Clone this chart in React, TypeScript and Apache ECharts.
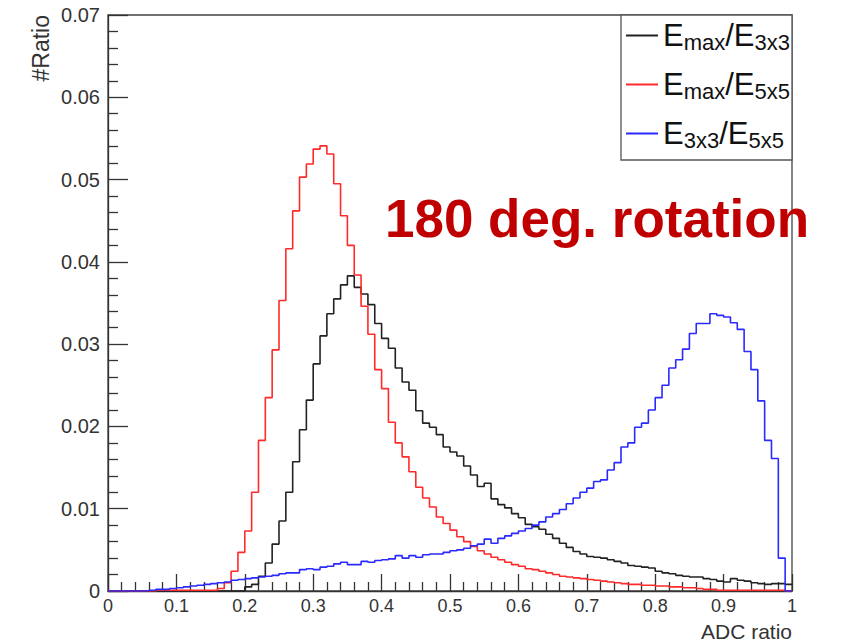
import React, { useEffect, useRef } from "react";
import * as echarts from "echarts";

const binCount = 100;
const binWidth = 0.01;
const xTickLabels = ["0", "0.1", "0.2", "0.3", "0.4", "0.5", "0.6", "0.7", "0.8", "0.9", "1"];
const yTickLabels = ["0", "0.01", "0.02", "0.03", "0.04", "0.05", "0.06", "0.07"];
const seriesNames = ["Emax/E3x3", "Emax/E5x5", "E3x3/E5x5"];

const emaxE3x3 = [
  0, 0, 0, 0, 0, 0, 0, 0, 0, 0,
  0, 0, 0, 0, 0, 0, 0, 0, 0, 0,
  0.0005, 0.0008, 0.0018, 0.0034, 0.0057, 0.0085, 0.012, 0.0157, 0.0196, 0.0232,
  0.0276, 0.031, 0.0337, 0.0355, 0.0372, 0.0383, 0.0369, 0.0361, 0.0348, 0.0325,
  0.0307, 0.0295, 0.0271, 0.0254, 0.0244, 0.0219, 0.0204, 0.0199, 0.019, 0.0175,
  0.0169, 0.0164, 0.0152, 0.0141, 0.0127, 0.0131, 0.0112, 0.0105, 0.0101, 0.0094,
  0.0089, 0.0081, 0.0078, 0.0075, 0.0069, 0.0064, 0.0058, 0.0053, 0.0048, 0.0045,
  0.0042, 0.0041, 0.004, 0.0038, 0.0036, 0.0034, 0.0031, 0.003, 0.0029, 0.0028,
  0.0024, 0.0022, 0.0021, 0.0019, 0.0018, 0.0017, 0.0017, 0.0015, 0.0014, 0.0012,
  0.0011, 0.0015, 0.0013, 0.0012, 0.001, 0.0009, 0.0008, 0.0009, 0.0009, 0.0008,
];

const emaxE5x5 = [
  0, 0, 0, 0, 0, 0, 0, 0.0001, 0.0001, 0.0001,
  0.0001, 0.0001, 0.0001, 0.0001, 0.0001, 0.0001, 0.0003, 0.001, 0.0024, 0.0047,
  0.0073, 0.012, 0.0183, 0.0235, 0.0293, 0.0353, 0.0416, 0.0462, 0.0503, 0.0519,
  0.0537, 0.0541, 0.0531, 0.0495, 0.0456, 0.042, 0.0384, 0.0346, 0.0312, 0.0269,
  0.0246, 0.0205, 0.018, 0.0163, 0.0145, 0.0126, 0.0113, 0.0102, 0.009, 0.0082,
  0.0074, 0.0066, 0.006, 0.0054, 0.0049, 0.0045, 0.0041, 0.0038, 0.0035, 0.0032,
  0.003, 0.0027, 0.0026, 0.0024, 0.0022, 0.002, 0.0018, 0.0017, 0.0016, 0.0015,
  0.0014, 0.0013, 0.0012, 0.0011, 0.001, 0.0009, 0.0008, 0.0008, 0.0007, 0.0007,
  0.0006, 0.0006, 0.0005, 0.0005, 0.0004, 0.0004, 0.0003, 0.0002, 0.0002, 0.0001,
  0.0001, 0.0001, 0.0001, 0.0001, 0.0001, 0.0001, 0.0001, 0.0001, 0.0001, 0,
];

const e3x3E5x5 = [
  0, 0, 0, 0, 0, 0, 0.0001, 0.0002, 0.0002, 0.0003,
  0.0004, 0.0005, 0.0006, 0.0007, 0.0008, 0.0009, 0.001, 0.0011, 0.0013, 0.0014,
  0.0015, 0.0016, 0.0017, 0.0018, 0.0019, 0.0021, 0.0022, 0.0022, 0.0026, 0.0027,
  0.0026, 0.0029, 0.003, 0.0033, 0.0035, 0.0032, 0.0032, 0.0036, 0.0035, 0.0037,
  0.0038, 0.0039, 0.0043, 0.004, 0.0043, 0.0041, 0.0044, 0.0045, 0.0045, 0.0047,
  0.0049, 0.005, 0.0052, 0.0055, 0.0057, 0.0063, 0.0058, 0.0064, 0.0067, 0.007,
  0.0073, 0.0076, 0.008, 0.0084, 0.009, 0.0094, 0.0099, 0.0106, 0.0113, 0.012,
  0.0125, 0.0133, 0.0135, 0.0147, 0.0156, 0.0175, 0.018, 0.0199, 0.0204, 0.022,
  0.0235, 0.025, 0.0271, 0.0281, 0.0294, 0.0313, 0.0325, 0.0325, 0.0337, 0.0335,
  0.0333, 0.0326, 0.0318, 0.0291, 0.0269, 0.0231, 0.0183, 0.0161, 0.004, 0,
];

const seriesColors = ["#222222", "#ff2a2a", "#2a2aff"];

const legendRich: Record<string, string> = {
  "Emax/E3x3": "{E|E}{s|max}{E|/E}{s|3x3}",
  "Emax/E5x5": "{E|E}{s|max}{E|/E}{s|5x5}",
  "E3x3/E5x5": "{E|E}{s|3x3}{E|/E}{s|5x5}",
};

const FONT = "'Liberation Sans', Arial, Helvetica, sans-serif";

function toSteps(values: number[]) {
  const pts: [number, number][] = values.map((v, i) => [+(i * binWidth).toFixed(2), v]);
  pts.push([+(binCount * binWidth).toFixed(2), values[values.length - 1]]);
  return pts;
}

export default function App() {
  const ref = useRef<HTMLDivElement>(null);
  useEffect(() => {
    if (!ref.current) return;
    const chart = echarts.init(ref.current, undefined, { renderer: "svg" });
    const allValues = [emaxE3x3, emaxE5x5, e3x3E5x5];
    chart.setOption({
      animation: false,
      backgroundColor: "#ffffff",
      grid: {
        left: 108,
        top: 15,
        right: 51,
        bottom: 53,
        show: true,
        borderColor: "#444",
        borderWidth: 1.3,
        backgroundColor: "transparent",
      },
      xAxis: {
        type: "value",
        min: 0,
        max: 1,
        interval: 0.1,
        axisLine: { show: true, lineStyle: { color: "#333", width: 1.3 } },
        axisTick: { show: true, inside: true, length: 17, lineStyle: { color: "#333", width: 1.3 } },
        minorTick: { show: true, splitNumber: 5, length: 9, lineStyle: { color: "#333", width: 1.3 } },
        splitLine: { show: false },
        axisLabel: {
          show: true,
          margin: 6,
          fontSize: 18,
          color: "#333",
          fontFamily: FONT,
          showMinLabel: true,
          showMaxLabel: true,
          formatter: (v: number) => xTickLabels[Math.round(v * 10)] ?? "",
        },
      },
      yAxis: {
        type: "value",
        min: 0,
        max: 0.07,
        interval: 0.01,
        axisLine: { show: true, lineStyle: { color: "#333", width: 1.3 } },
        axisTick: { show: true, inside: true, length: 20, lineStyle: { color: "#333", width: 1.3 } },
        minorTick: { show: true, splitNumber: 5, length: 10, lineStyle: { color: "#333", width: 1.3 } },
        splitLine: { show: false },
        axisLabel: {
          show: true,
          margin: 8,
          fontSize: 20,
          color: "#333",
          fontFamily: FONT,
          showMinLabel: true,
          showMaxLabel: true,
          formatter: (v: number) => yTickLabels[Math.round(v * 100)] ?? "",
        },
      },
      legend: {
        orient: "vertical",
        left: 626,
        top: 20,
        padding: 0,
        itemWidth: 32,
        itemHeight: 2,
        itemGap: 15.5,
        icon: "rect",
        data: seriesNames,
        formatter: (name: string) => legendRich[name] ?? name,
        textStyle: {
          color: "#111",
          fontFamily: FONT,
          rich: {
            E: { fontSize: 31, lineHeight: 36, color: "#111", fontFamily: FONT },
            s: { fontSize: 22, padding: [14, 0, 0, 0], color: "#111", fontFamily: FONT },
          },
        },
        z: 6,
      },
      graphic: [
        {
          type: "rect",
          z: 5,
          shape: { x: 621, y: 15, width: 171, height: 145 },
          style: { fill: "#fff", stroke: "#555", lineWidth: 1.3 },
        },
        {
          type: "text",
          z: 5,
          x: 41,
          y: 15,
          rotation: Math.PI / 2,
          style: {
            text: "#Ratio",
            align: "right",
            verticalAlign: "middle",
            fontSize: 23,
            fontFamily: FONT,
            fill: "#333",
          },
        },
        {
          type: "text",
          z: 5,
          x: 792,
          y: 631,
          style: {
            text: "ADC ratio",
            align: "right",
            verticalAlign: "middle",
            fontSize: 21,
            fontFamily: FONT,
            fill: "#333",
          },
        },
        {
          type: "text",
          z: 5,
          x: 597,
          y: 218,
          style: {
            text: "180 deg. rotation",
            align: "center",
            verticalAlign: "middle",
            fontSize: 53,
            fontWeight: "bold",
            fontFamily: FONT,
            fill: "#c00000",
          },
        },
      ],
      series: seriesNames.map((name, i) => ({
        name,
        type: "line",
        step: "end",
        data: toSteps(allValues[i]),
        showSymbol: false,
        symbol: "none",
        color: seriesColors[i],
        lineStyle: { color: seriesColors[i], width: 1.6 },
        z: 3,
      })),
    });
    return () => chart.dispose();
  }, []);
  return (
    <div
      ref={ref}
      style={{ position: "fixed", left: 0, top: 0, width: 843, height: 644, background: "#fff" }}
    />
  );
}
